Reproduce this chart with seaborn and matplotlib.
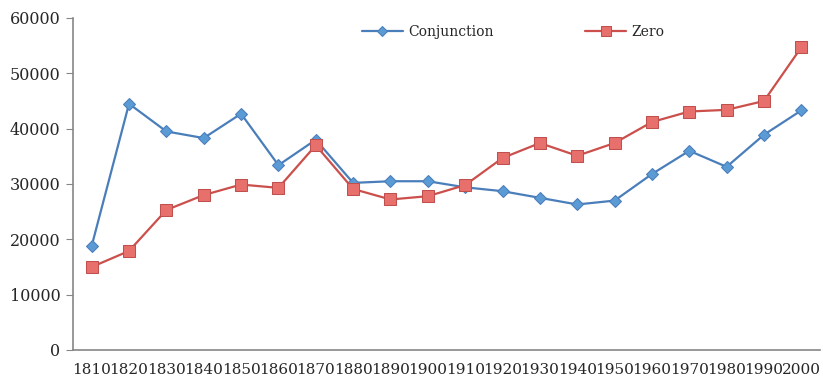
import numpy as np
import pandas as pd
import seaborn as sns
import matplotlib.pyplot as plt

years = ["1810", "1820", "1830", "1840", "1850", "1860", "1870", "1880", "1890", "1900",
         "1910", "1920", "1930", "1940", "1950", "1960", "1970", "1980", "1990", "2000"]
conjunction = [18800, 44500, 39500, 38300, 42700, 33400, 38000, 30200, 30500, 30500,
               29400, 28700, 27500, 26300, 27000, 31800, 36000, 33100, 38900, 43300]
zero = [15000, 17900, 25300, 28000, 29900, 29300, 37000, 29100, 27200, 27800,
        29800, 34700, 37400, 35100, 37400, 41200, 43100, 43400, 45000, 54700]

sns.set_style("white")
plt.rcParams['font.family'] = ['DejaVu Serif']

df = pd.DataFrame({'pos': np.arange(len(years)), 'Conjunction': conjunction, 'Zero': zero})

fig = plt.figure(figsize=(8.23, 3.78), dpi=100)
ax = fig.add_axes([73 / 823, 1 - 350 / 378, (820 - 73) / 823, (350 - 18) / 378])

sns.lineplot(data=df, x='pos', y='Conjunction', ax=ax, color='#4A7EBB', lw=1.6,
             marker='D', markersize=6.5, markerfacecolor='#5B9BD5', markeredgecolor='#4A7EBB',
             label='Conjunction')
sns.lineplot(data=df, x='pos', y='Zero', ax=ax, color='#CB4F4B', lw=1.6,
             marker='s', markersize=8.5, markerfacecolor='#E8706C', markeredgecolor='#C0504D',
             label='Zero')

ax.set_xlim(-0.5, len(years) - 0.5)
ax.set_ylim(0, 60000)
ax.set_yticks(range(0, 60001, 10000))
ax.set_yticklabels([str(v) for v in range(0, 60001, 10000)], fontsize=11.5)
ax.set_xticks(np.arange(len(years)))
ax.set_xticklabels(years, fontsize=11)
ax.set_xticks(np.arange(len(years) + 1) - 0.5, minor=True)
ax.tick_params(axis='x', which='major', length=0, pad=9)
ax.tick_params(axis='x', which='minor', length=5, color='#868686', direction='out')
ax.tick_params(axis='y', length=5, color='#868686', direction='out', pad=4, left=True)
ax.set_xlabel('')
ax.set_ylabel('')

for s in ['top', 'right']:
    ax.spines[s].set_visible(False)
for s in ['left', 'bottom']:
    ax.spines[s].set_color('#868686')
    ax.spines[s].set_linewidth(1.2)

ax.legend(loc='center', bbox_to_anchor=(513 / 823, 1 - 32 / 378), bbox_transform=fig.transFigure,
          ncol=2, frameon=False, fontsize=10, handlelength=2.95, handletextpad=0.36,
          columnspacing=6.6, markerscale=0.8)

fig.savefig('out.png', dpi=100)
